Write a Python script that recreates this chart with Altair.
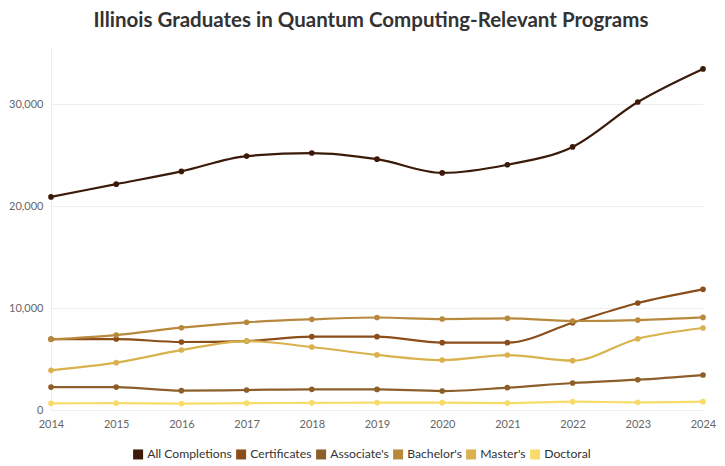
import altair as alt
import pandas as pd

years = list(range(2014, 2025))
series = ["All Completions", "Certificates", "Associate's", "Bachelor's", "Master's", "Doctoral"]
colors = ["#3b1a0a", "#8b4e1a", "#8d5e2a", "#b8893c", "#d9b24e", "#f7dc6a"]

all_completions = [20900, 22150, 23400, 24900, 25200, 24600, 23250, 24050, 25800, 30200, 33450]
certificates = [6950, 6960, 6670, 6760, 7190, 7190, 6600, 6600, 8560, 10490, 11830]
associates = [2250, 2250, 1900, 1960, 2030, 2020, 1860, 2190, 2650, 2970, 3430]
bachelors = [6930, 7350, 8070, 8600, 8890, 9070, 8920, 8990, 8730, 8820, 9080]
masters = [3890, 4640, 5880, 6760, 6180, 5400, 4900, 5390, 4840, 6990, 8040]
doctoral = [650, 670, 630, 670, 700, 720, 720, 680, 820, 750, 820]

values = [all_completions, certificates, associates, bachelors, masters, doctoral]
rows = []
for name, vals in zip(series, values):
    for yr, v in zip(years, vals):
        rows.append({"Year": yr, "Series": name, "Graduates": v})
df = pd.DataFrame(rows)

color = alt.Color(
    "Series:N",
    scale=alt.Scale(domain=series, range=colors),
    sort=series,
    legend=alt.Legend(
        orient="none",
        legendX=81,
        legendY=400,
        direction="horizontal",
        title=None,
        symbolType="square",
        symbolSize=100,
        symbolStrokeWidth=0,
        labelFontSize=12.2,
        labelColor="#333333",
        labelFont="Lato",
        columnPadding=3,
        labelOffset=3,
    ),
)

x = alt.X(
    "Year:Q",
    scale=alt.Scale(domain=[2014, 2024], nice=False),
    axis=alt.Axis(
        values=years,
        format="d",
        title=None,
        grid=False,
        ticks=False,
        domain=False,
        labelFlush=False,
        labelFontSize=11,
        labelColor="#666666",
        labelFont="Lato",
        labelPadding=8,
    ),
)
y = alt.Y(
    "Graduates:Q",
    scale=alt.Scale(domain=[0, 35500], nice=False),
    axis=alt.Axis(
        values=[0, 10000, 20000, 30000],
        format=",d",
        title=None,
        ticks=False,
        domainColor="#eeeeee",
        gridColor="#eeeeee",
        labelFontSize=11,
        labelColor="#666666",
        labelFont="Lato",
        labelPadding=8,
    ),
)

base = alt.Chart(df).encode(x=x, y=y, color=color)
lines = base.mark_line(interpolate="monotone", strokeWidth=2.2)
points = base.mark_circle(size=32, opacity=1)

chart = (
    (lines + points)
    .properties(
        width=652,
        height=362,
        padding={"left": 0, "right": 0, "top": 2, "bottom": 0},
        title=alt.TitleParams(
            "Illinois Graduates in Quantum Computing-Relevant Programs",
            font="Lato",
            fontSize=20.5,
            fontWeight="bold",
            color="#333333",
            offset=17,
            dx=-6,
        ),
    )
    .configure_view(stroke=None)
)

chart.save("out.html", embed_options={"renderer": "svg", "actions": False})
